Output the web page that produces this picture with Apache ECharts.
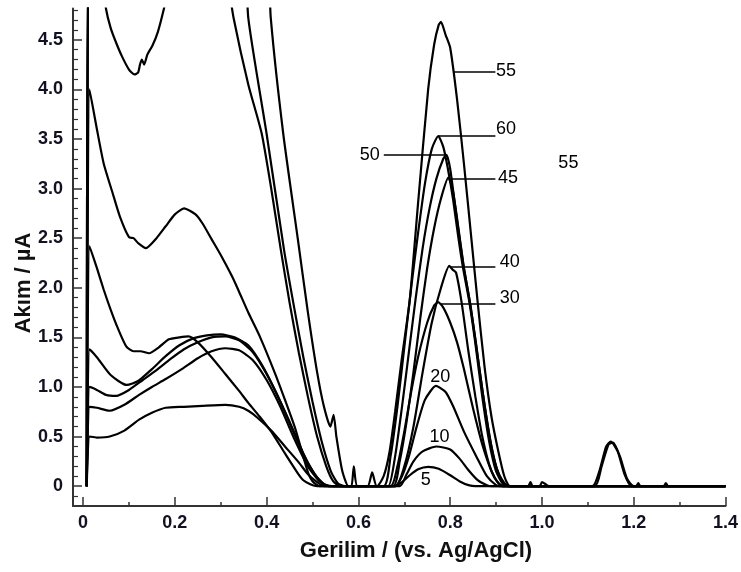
<!DOCTYPE html>
<html><head><meta charset="utf-8">
<script src="https://cdn.jsdelivr.net/npm/echarts@6/dist/echarts.min.js"></script>
<style>html,body{margin:0;padding:0;background:#fff}#c{width:741px;height:572px}</style>
</head><body><div id="c"></div>
<script>
// ---- tick values ----
const xTicks = [0, 0.2, 0.4, 0.6, 0.8, 1.0, 1.2, 1.4];
const xMinorTicks = [0.1, 0.3, 0.5, 0.7, 0.9, 1.1, 1.3];
const yTicks = [0, 0.5, 1.0, 1.5, 2.0, 2.5, 3.0, 3.5, 4.0, 4.5];
const yMinorTicks = [-0.1, 0.1, 0.2, 0.3, 0.4, 0.6, 0.7, 0.8, 0.9, 1.1, 1.2, 1.3, 1.4, 1.6, 1.7, 1.8, 1.9,
  2.1, 2.2, 2.3, 2.4, 2.6, 2.7, 2.8, 2.9, 3.1, 3.2, 3.3, 3.4, 3.6, 3.7, 3.8, 3.9, 4.1, 4.2, 4.3, 4.4, 4.6, 4.7, 4.8];

// ---- series (x = potential V, y = current µA) ----
const seriesNames = ['5', '10', '20', '30', '40', '45', '50', '55', '60'];
const s5 = [[0.008,0],[0.014,0.5],[0.03,0.49],[0.058,0.5],[0.09,0.56],[0.122,0.67],[0.15,0.74],[0.18,0.79],[0.22,0.8],[0.26,0.81],[0.31,0.82],[0.34,0.8],[0.36,0.76],[0.38,0.69],[0.41,0.56],[0.44,0.4],[0.47,0.24],[0.49,0.12],[0.51,0.04],[0.526,0],
  [0.68,0],[0.695,0.04],[0.712,0.11],[0.73,0.17],[0.752,0.195],[0.775,0.175],[0.8,0.11],[0.82,0.05],[0.84,0.01],[0.855,0],[1.4,0]];
const s10 = [[0.008,0],[0.014,0.8],[0.03,0.79],[0.058,0.76],[0.09,0.82],[0.122,0.92],[0.15,1.0],[0.18,1.08],[0.215,1.18],[0.25,1.29],[0.28,1.36],[0.31,1.39],[0.34,1.37],[0.37,1.27],[0.4,1.07],[0.43,0.8],[0.46,0.48],[0.49,0.2],[0.515,0.05],[0.535,0],
  [0.69,0],[0.705,0.12],[0.72,0.25],[0.74,0.35],[0.77,0.4],[0.8,0.37],[0.82,0.28],[0.84,0.16],[0.86,0.06],[0.88,0.01],[0.89,0],[1.4,0]];
const s20 = [[0.008,0],[0.014,1.0],[0.03,0.97],[0.05,0.92],[0.072,0.91],[0.1,0.97],[0.13,1.07],[0.16,1.17],[0.19,1.28],[0.22,1.38],[0.25,1.45],[0.28,1.5],[0.31,1.51],[0.34,1.47],[0.37,1.35],[0.4,1.13],[0.43,0.85],[0.46,0.53],[0.49,0.23],[0.515,0.06],[0.535,0],
  [0.68,0],[0.695,0.1],[0.71,0.3],[0.727,0.6],[0.745,0.87],[0.769,1.01],[0.79,0.95],[0.806,0.81],[0.83,0.55],[0.857,0.3],[0.88,0.1],[0.9,0.01],[0.91,0],[1.4,0]];
const s30 = [[0.008,0],[0.014,1.38],[0.03,1.3],[0.06,1.12],[0.095,1.02],[0.12,1.06],[0.15,1.18],[0.18,1.31],[0.21,1.42],[0.24,1.49],[0.27,1.52],[0.3,1.53],[0.33,1.5],[0.36,1.42],[0.39,1.22],[0.42,0.95],[0.45,0.65],[0.48,0.33],[0.505,0.12],[0.525,0.02],[0.545,0],
  [0.67,0],[0.685,0.2],[0.7,0.55],[0.715,0.95],[0.73,1.3],[0.75,1.65],[0.765,1.82],[0.774,1.855],[0.785,1.8],[0.8,1.65],[0.815,1.45],[0.83,1.18],[0.85,0.78],[0.87,0.42],[0.89,0.15],[0.905,0.03],[0.915,0],[1.4,0]];
const s40 = [[0.008,0],[0.014,2.42],[0.03,2.2],[0.045,1.98],[0.06,1.78],[0.075,1.6],[0.094,1.41],[0.11,1.36],[0.125,1.36],[0.144,1.34],[0.165,1.4],[0.187,1.48],[0.21,1.5],[0.23,1.51],[0.25,1.45],[0.28,1.3],[0.31,1.13],[0.34,0.96],[0.36,0.84],[0.385,0.7],[0.41,0.55],[0.44,0.33],[0.468,0.13],[0.48,0.06],[0.495,0.02],[0.51,0],
  [0.68,0],[0.7,0.2],[0.72,0.6],[0.74,1.15],[0.76,1.65],[0.78,2.0],[0.798,2.22],[0.806,2.18],[0.813,2.15],[0.825,1.85],[0.84,1.35],[0.855,0.9],[0.87,0.5],[0.885,0.22],[0.9,0.06],[0.915,0],[1.4,0]];
const s45 = [[0.008,0],[0.014,4.0],[0.03,3.6],[0.045,3.25],[0.064,2.96],[0.08,2.72],[0.1,2.51],[0.11,2.5],[0.12,2.45],[0.137,2.4],[0.16,2.5],[0.18,2.62],[0.2,2.74],[0.22,2.8],[0.245,2.74],[0.26,2.65],[0.28,2.49],[0.3,2.33],[0.324,2.12],[0.338,1.98],[0.36,1.75],[0.385,1.51],[0.418,1.14],[0.44,0.87],[0.461,0.6],[0.475,0.38],[0.49,0.14],[0.5,0.05],[0.515,0],
  [0.675,0],[0.69,0.25],[0.705,0.65],[0.72,1.15],[0.735,1.7],[0.75,2.2],[0.765,2.6],[0.78,2.9],[0.796,3.11],[0.805,3.0],[0.815,2.7],[0.83,2.2],[0.845,1.8],[0.86,1.3],[0.875,0.82],[0.89,0.4],[0.905,0.13],[0.92,0.02],[0.932,0],[1.4,0]];
const s50 = [[0.008,0],[0.014,6],[0.34,6],[0.36,4.72],[0.4,3.55],[0.438,2.38],[0.46,1.8],[0.48,1.3],[0.5,0.85],[0.52,0.45],[0.54,0.15],[0.555,0.03],[0.57,0],[0.62,0],[0.63,0.14],[0.64,0],
  [0.665,0],[0.68,0.3],[0.695,0.8],[0.71,1.35],[0.725,1.9],[0.74,2.4],[0.755,2.8],[0.77,3.1],[0.785,3.3],[0.792,3.34],[0.8,3.2],[0.81,2.85],[0.828,2.25],[0.842,1.88],[0.856,1.45],[0.87,0.97],[0.885,0.52],[0.9,0.2],[0.915,0.04],[0.928,0],[1.4,0]];
const s55 = [[0.008,0],[0.014,6],[0.39,6],[0.409,4.72],[0.436,3.56],[0.468,2.49],[0.49,1.75],[0.51,1.15],[0.525,0.8],[0.539,0.6],[0.546,0.72],[0.552,0.5],[0.565,0.15],[0.578,0],[0.585,0],[0.59,0.2],[0.598,0],
  [0.64,0],[0.655,0.1],[0.668,0.35],[0.68,0.75],[0.695,1.3],[0.712,1.88],[0.73,2.85],[0.752,4.0],[0.765,4.45],[0.775,4.65],[0.78,4.68],[0.79,4.55],[0.8,4.42],[0.815,3.9],[0.83,3.25],[0.845,2.55],[0.86,1.85],[0.875,1.2],[0.89,0.7],[0.905,0.35],[0.918,0.1],[0.93,0],
  [0.97,0],[0.975,0.04],[0.98,0],[0.995,0],[1.0,0.04],[1.008,0.02],[1.015,0],[1.11,0],[1.125,0.15],[1.14,0.4],[1.15,0.45],[1.165,0.35],[1.18,0.12],[1.195,0],[1.205,0],[1.21,0.03],[1.215,0],[1.265,0],[1.27,0.03],[1.275,0],[1.4,0]];
const s60 = [[0.008,0],[0.014,6],[0.035,5.3],[0.05,4.81],[0.06,4.62],[0.072,4.47],[0.085,4.33],[0.1,4.2],[0.112,4.15],[0.12,4.17],[0.124,4.25],[0.128,4.3],[0.133,4.25],[0.14,4.35],[0.151,4.44],[0.163,4.58],[0.176,4.81],[0.19,5.1],[0.2,5.3],[0.3,5.5],[0.315,5.1],[0.328,4.72],[0.36,4.05],[0.389,3.56],[0.41,3.0],[0.431,2.38],[0.45,1.85],[0.47,1.35],[0.49,0.9],[0.51,0.5],[0.53,0.2],[0.545,0.05],[0.56,0],
  [0.655,0],[0.67,0.3],[0.685,0.8],[0.7,1.4],[0.715,2.0],[0.73,2.55],[0.745,3.05],[0.76,3.4],[0.774,3.53],[0.785,3.42],[0.795,3.2],[0.806,2.9],[0.818,2.5],[0.828,2.2],[0.842,1.85],[0.856,1.4],[0.87,0.9],[0.885,0.45],[0.9,0.15],[0.915,0.02],[0.925,0],
  [1.115,0],[1.13,0.2],[1.145,0.42],[1.155,0.44],[1.17,0.3],[1.185,0.08],[1.2,0],[1.4,0]];
const seriesData = [s5, s10, s20, s30, s40, s45, s50, s55, s60];

// ---- annotations (data coordinates) ----
const leaderLines = [ // [x start, x end, y]
  [0.8065, 0.8985, 4.173], [0.774, 0.8985, 3.535], [0.8006, 0.8985, 3.102],
  [0.6553, 0.792, 3.344], [0.799, 0.8985, 2.208], [0.7775, 0.8985, 1.839]
];
const annotTexts = ['55', '60', '45', '50', '40', '30', '20', '10', '5', '55'];
const annotX = [0.9215, 0.9215, 0.9258, 0.6246, 0.930, 0.930, 0.7784, 0.7769, 0.7467, 1.0576];
const annotY = [4.185, 3.596, 3.102, 3.339, 2.255, 1.892, 1.096, 0.5, 0.058, 3.253];

const FONT = '"Liberation Sans", Arial, sans-serif';
const AXC = '#333';
const LBC = '#111122';
const chart = echarts.init(document.getElementById('c'), null, {renderer: 'canvas'});
const fmt = v => (Math.abs(v) < 1e-9 ? '0' : v.toFixed(1));

const lineSeries = seriesData.map((d, i) => ({
  name: seriesNames[i], type: 'line', data: d, showSymbol: false, symbol: 'none',
  smooth: 0.2, clip: true, lineStyle: {color: '#000', width: 2.2}, silent: true, z: 2
}));

const option = {
  animation: false,
  backgroundColor: '#fff',
  grid: {left: 73, right: 10, top: 8.5, bottom: 66},
  xAxis: [
    {type: 'value', min: -0.022, max: 1.4,
     axisLine: {show: true, onZero: false, lineStyle: {color: AXC, width: 2}},
     axisTick: {show: true, inside: true, length: 9, customValues: xTicks, lineStyle: {color: AXC, width: 1.5}},
     axisLabel: {customValues: xTicks, formatter: fmt, margin: 8, fontSize: 18, fontWeight: 'bold', fontFamily: FONT, color: LBC},
     splitLine: {show: false}},
    {type: 'value', min: -0.022, max: 1.4, position: 'bottom',
     axisLine: {show: false, onZero: false},
     axisTick: {show: true, inside: true, length: 4, customValues: xMinorTicks, lineStyle: {color: AXC, width: 1.5}},
     axisLabel: {show: false}, splitLine: {show: false}}
  ],
  yAxis: [
    {type: 'value', min: -0.2, max: 4.815,
     axisLine: {show: true, onZero: false, lineStyle: {color: AXC, width: 2}},
     axisTick: {show: true, inside: true, length: 9, customValues: yTicks, lineStyle: {color: AXC, width: 1.5}},
     axisLabel: {customValues: yTicks, formatter: fmt, margin: 10, fontSize: 18, fontWeight: 'bold', fontFamily: FONT, color: LBC},
     splitLine: {show: false}},
    {type: 'value', min: -0.2, max: 4.815, position: 'left',
     axisLine: {show: false, onZero: false},
     axisTick: {show: true, inside: true, length: 5, customValues: yMinorTicks, lineStyle: {color: AXC, width: 1.2}},
     axisLabel: {show: false}, splitLine: {show: false}}
  ],
  graphic: [
    {type: 'text', x: 24, y: 283, rotation: Math.PI / 2,
     style: {text: 'Akım / µA', align: 'center', verticalAlign: 'middle', font: 'bold 22px ' + FONT, fill: '#111'}},
    {type: 'text', x: 416, y: 551,
     style: {text: 'Gerilim / (vs. Ag/AgCl)', align: 'center', verticalAlign: 'middle', font: 'bold 22px ' + FONT, fill: '#111'}}
  ],
  series: lineSeries.concat([{
    type: 'scatter', symbol: 'circle', symbolSize: 0, itemStyle: {color: '#000', opacity: 1}, silent: true, z: 5,
    data: annotTexts.map((t, i) => ({name: t, value: [annotX[i], annotY[i]]})),
    label: {show: true, position: 'inside', formatter: '{b}', fontSize: 18, fontFamily: FONT,
            color: '#000', opacity: 1, textBorderWidth: 0},
    emphasis: {disabled: true},
    markLine: {
      silent: true, symbol: ['none', 'none'], animation: false,
      lineStyle: {color: '#000', width: 1.5, type: 'solid'}, label: {show: false},
      data: leaderLines.map(l => [{coord: [l[0], l[2]]}, {coord: [l[1], l[2]]}])
    }
  }])
};
chart.setOption(option);
</script></body></html>
